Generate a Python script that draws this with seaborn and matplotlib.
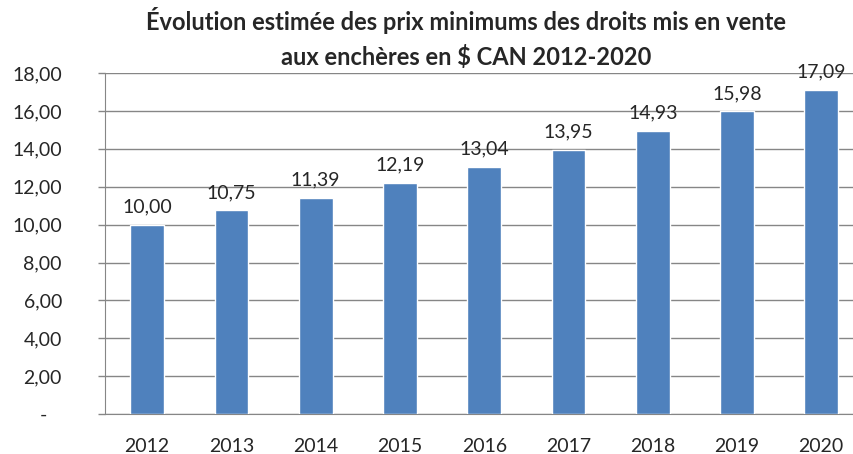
import matplotlib
matplotlib.use("Agg")
import matplotlib.pyplot as plt
import seaborn as sns
from matplotlib.ticker import FuncFormatter

# data
years = ["2012", "2013", "2014", "2015", "2016", "2017", "2018", "2019", "2020"]
prices = [10.00, 10.75, 11.39, 12.19, 13.04, 13.95, 14.93, 15.98, 17.09]

sns.set_style("white")
plt.rcParams["font.family"] = ["Lato", "DejaVu Sans"]

fig = plt.figure(figsize=(8.54, 4.54), dpi=100)
# plot area runs a little past the right edge, like the cropped original
ax = fig.add_axes([0.123, 0.088, 0.888, 0.751])

sns.barplot(x=years, y=prices, color="#4F81BD", saturation=1, width=0.40, ax=ax, zorder=3)

ax.set_ylim(0, 18)
ax.set_xlim(-0.5, len(years) - 0.5)
ax.set_yticks(range(0, 19, 2))
ax.yaxis.set_major_formatter(FuncFormatter(
    lambda v, p: "-   " if v == 0 else f"{v:.2f}".replace(".", ",")))
ax.grid(axis="y", color="#868686", linewidth=1, zorder=0)
ax.set_axisbelow(True)

for s in ["top", "right"]:
    ax.spines[s].set_visible(False)
for s in ["left", "bottom"]:
    ax.spines[s].set_color("#868686")

# ticks between categories on x
ax.set_xticks([i - 0.5 for i in range(len(years) + 1)], minor=True)
ax.tick_params(axis="x", which="minor", length=5, color="#868686", width=1)
ax.tick_params(axis="x", which="major", length=0, pad=17, labelsize=14)
ax.tick_params(axis="y", length=5, color="#868686", width=1, labelsize=14, pad=26, left=True)

for i, v in enumerate(prices):
    ax.text(i, v + 0.5, f"{v:.2f}".replace(".", ","), ha="center", va="bottom", fontsize=14)

fig.text(0.546, 0.985, "Évolution estimée des prix minimums des droits mis en vente\naux enchères en $ CAN 2012-2020",
         ha="center", va="top", fontsize=17, fontweight="bold", linespacing=1.55)

fig.savefig("out.png", dpi=100)
